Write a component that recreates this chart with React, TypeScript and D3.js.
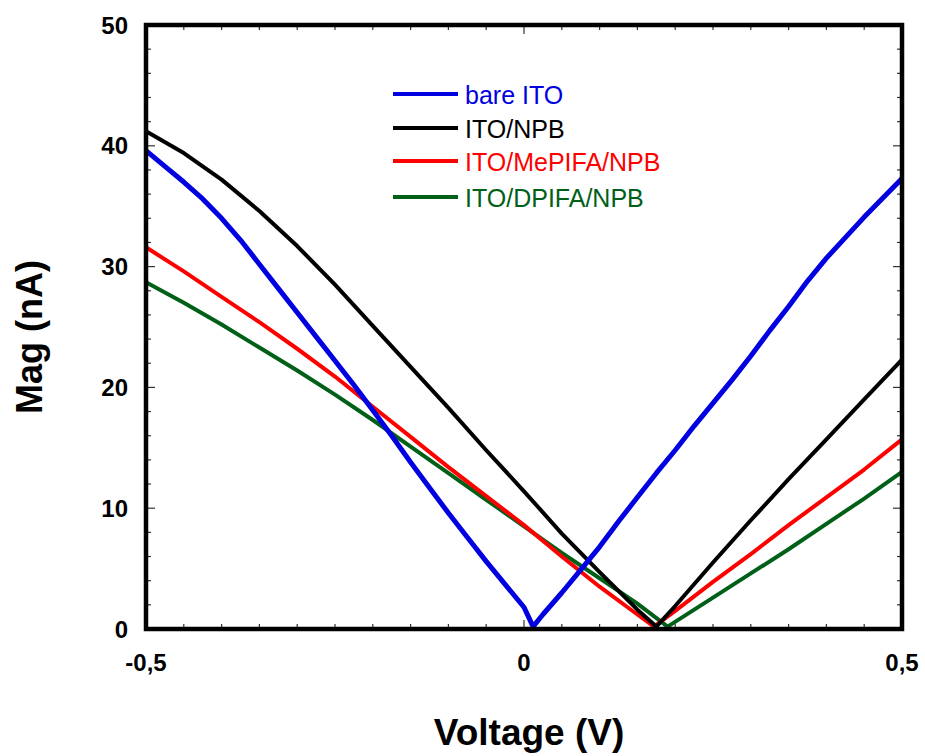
import React from "react";
import * as d3 from "d3";

// Voltage sweep (V) and current magnitude (nA) for each electrode stack
const bareVoltage = [
  -0.5, -0.475, -0.45, -0.425, -0.4, -0.375, -0.35, -0.325, -0.3, -0.275, -0.25,
  -0.225, -0.2, -0.175, -0.15, -0.125, -0.1, -0.075, -0.05, -0.025, 0, 0.012,
  0.025, 0.05, 0.075, 0.1, 0.125, 0.15, 0.175, 0.2, 0.225, 0.25, 0.275, 0.3,
  0.325, 0.35, 0.375, 0.4, 0.425, 0.45, 0.475, 0.5,
];
const bareITO = [
  39.6, 38.3, 37.0, 35.6, 34.0, 32.2, 30.2, 28.2, 26.2, 24.2, 22.2, 20.2, 18.1,
  16.0, 13.8, 11.7, 9.6, 7.6, 5.6, 3.7, 1.8, 0.2, 1.2, 3.0, 4.9, 6.8, 8.9, 10.9,
  12.9, 14.8, 16.8, 18.7, 20.6, 22.6, 24.7, 26.7, 28.8, 30.7, 32.4, 34.1, 35.7,
  37.3,
];

const npbVoltage = [
  -0.5, -0.45, -0.4, -0.35, -0.3, -0.25, -0.2, -0.15, -0.1, -0.05, 0, 0.05, 0.1,
  0.15, 0.175, 0.2, 0.25, 0.3, 0.35, 0.4, 0.45, 0.5,
];
const itoNPB = [
  41.2, 39.4, 37.2, 34.6, 31.7, 28.5, 25.1, 21.7, 18.3, 14.8, 11.4, 7.9, 4.7,
  1.6, 0.2, 1.9, 5.5, 9.0, 12.4, 15.7, 19.0, 22.3,
];

const mepifaVoltage = [
  -0.5, -0.45, -0.4, -0.35, -0.3, -0.25, -0.2, -0.15, -0.1, -0.05, 0, 0.05, 0.1,
  0.15, 0.172, 0.2, 0.25, 0.3, 0.35, 0.4, 0.45, 0.5,
];
const itoMePIFA = [
  31.6, 29.6, 27.5, 25.4, 23.2, 20.9, 18.4, 15.9, 13.4, 11.0, 8.6, 6.0, 3.5, 1.2,
  0.2, 1.5, 3.9, 6.2, 8.6, 10.9, 13.2, 15.7,
];

const dpifaVoltage = [
  -0.5, -0.45, -0.4, -0.35, -0.3, -0.25, -0.2, -0.15, -0.1, -0.05, 0, 0.05, 0.1,
  0.15, 0.19, 0.25, 0.3, 0.35, 0.4, 0.45, 0.5,
];
const itoDPIFA = [
  28.7, 27.0, 25.2, 23.3, 21.4, 19.4, 17.3, 15.1, 12.9, 10.7, 8.5, 6.3, 4.2, 2.1,
  0.2, 2.6, 4.6, 6.6, 8.7, 10.8, 13.0,
];

const seriesNames = ["bare ITO", "ITO/NPB", "ITO/MePIFA/NPB", "ITO/DPIFA/NPB"];
const seriesColors = ["#0000e0", "#000000", "#ff0000", "#006018"];

const xMajorTicks = [-0.5, 0, 0.5];
const xTickLabels = ["-0,5", "0", "0,5"];
const yMajorTicks = [0, 10, 20, 30, 40, 50];

const W = 925;
const H = 756;
const left = 146;
const right = 902;
const top = 25;
const bottom = 629;

export default function App() {
  const x = d3.scaleLinear().domain([-0.5, 0.5]).range([left, right]);
  const y = d3.scaleLinear().domain([0, 50]).range([bottom, top]);

  const series = [
    { v: bareVoltage, i: bareITO },
    { v: npbVoltage, i: itoNPB },
    { v: mepifaVoltage, i: itoMePIFA },
    { v: dpifaVoltage, i: itoDPIFA },
  ];

  const line = d3
    .line<[number, number]>()
    .x((d) => x(d[0]))
    .y((d) => y(d[1]));

  const xMinor = d3.range(-0.5, 0.5001, 0.05).filter(
    (t) => !xMajorTicks.some((m) => Math.abs(m - t) < 1e-6)
  );
  const yMinor = d3.range(0, 50.001, 2).filter((t) => t % 10 !== 0);

  const tickStroke = "#333";
  const font = "Liberation Sans, Arial, Helvetica, sans-serif";

  // draw order: green, red, black, blue on top of the crossing region
  const order = [3, 2, 1, 0];

  return (
    <svg
      width={W}
      height={H}
      style={{ position: "absolute", left: 0, top: 0, background: "#fff" }}
      fontFamily={font}
    >
      {/* minor and major ticks on all four sides, pointing inward */}
      <g stroke={tickStroke} strokeWidth={1.2}>
        {xMinor.map((t, k) => (
          <g key={"xm" + k}>
            <line x1={x(t)} x2={x(t)} y1={bottom} y2={bottom - 5} />
            <line x1={x(t)} x2={x(t)} y1={top} y2={top + 5} />
          </g>
        ))}
        {xMajorTicks.map((t, k) => (
          <g key={"xM" + k}>
            <line x1={x(t)} x2={x(t)} y1={bottom} y2={bottom - 9} />
            <line x1={x(t)} x2={x(t)} y1={top} y2={top + 9} />
          </g>
        ))}
        {yMinor.map((t, k) => (
          <g key={"ym" + k}>
            <line x1={left} x2={left + 5} y1={y(t)} y2={y(t)} />
            <line x1={right} x2={right - 5} y1={y(t)} y2={y(t)} />
          </g>
        ))}
        {yMajorTicks.map((t, k) => (
          <g key={"yM" + k}>
            <line x1={left} x2={left + 9} y1={y(t)} y2={y(t)} />
            <line x1={right} x2={right - 9} y1={y(t)} y2={y(t)} />
          </g>
        ))}
      </g>

      {/* data curves */}
      {order.map((s) => (
        <path
          key={"s" + s}
          d={
            line(series[s].v.map((v, k) => [v, series[s].i[k]] as [number, number])) ||
            ""
          }
          fill="none"
          stroke={seriesColors[s]}
          strokeWidth={s === 0 ? 5 : 4}
          strokeLinejoin="round"
        />
      ))}

      {/* plot frame */}
      <rect
        x={left}
        y={top}
        width={right - left}
        height={bottom - top}
        fill="none"
        stroke="#000"
        strokeWidth={4.5}
      />

      {/* tick labels */}
      <g fontWeight="bold" fontSize={24} fill="#000">
        {xMajorTicks.map((t, k) => (
          <text key={"xl" + k} x={x(t)} y={671} textAnchor="middle">
            {xTickLabels[k]}
          </text>
        ))}
        {yMajorTicks.map((t, k) => (
          <text key={"yl" + k} x={128} y={y(t) + 8.5} textAnchor="end">
            {t}
          </text>
        ))}
      </g>

      {/* axis titles */}
      <text
        x={529}
        y={745}
        textAnchor="middle"
        fontWeight="bold"
        fontSize={37}
        fill="#000"
      >
        Voltage (V)
      </text>
      <text
        transform="translate(42,337) rotate(-90)"
        textAnchor="middle"
        fontWeight="bold"
        fontSize={36}
        fill="#000"
      >
        Mag (nA)
      </text>

      {/* legend */}
      {seriesNames.map((name, k) => {
        const ly = [94, 128, 161, 197][k];
        return (
          <g key={"lg" + k}>
            <line
              x1={393}
              x2={458}
              y1={ly}
              y2={ly}
              stroke={seriesColors[k]}
              strokeWidth={4}
            />
            <text x={465} y={ly + 10} fontSize={25} fill={seriesColors[k]}>
              {name}
            </text>
          </g>
        );
      })}
    </svg>
  );
}
